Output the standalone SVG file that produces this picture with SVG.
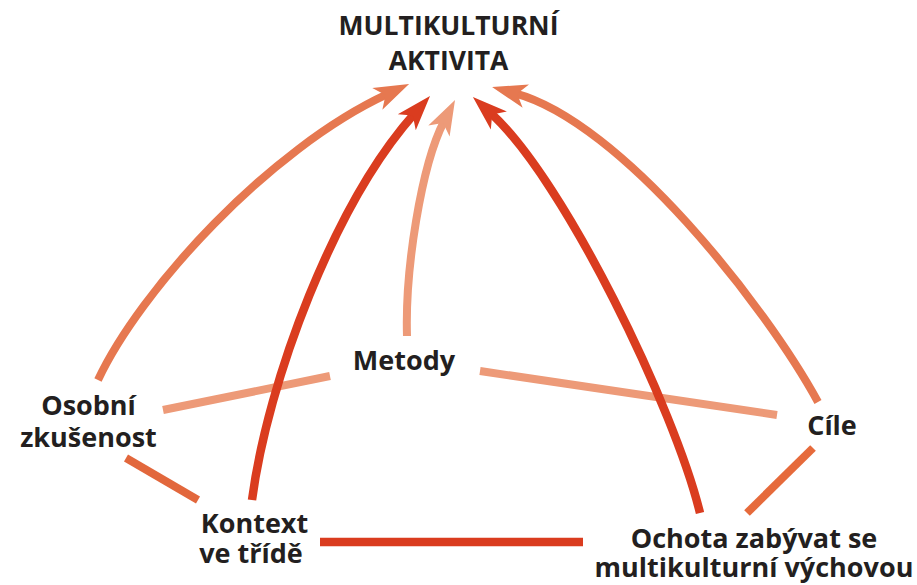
<svg xmlns="http://www.w3.org/2000/svg" width="917" height="585" viewBox="0 0 917 585">
<style>
.lbl{font-family:"Open Sans","Noto Sans","DejaVu Sans",sans-serif;font-weight:700;font-size:27px;fill:#231f20;text-anchor:middle}
.ttl{font-size:26.5px}
.c{fill:none;stroke-linecap:butt}
.mid{stroke:#e67850;stroke-width:8}
.red{stroke:#da3c1f;stroke-width:8.5}
.lt{stroke:#ed9a78;stroke-width:8}
</style>
<defs>
<marker id="hMid" markerUnits="userSpaceOnUse" viewBox="-12 -13 37 26" refX="0" refY="0" markerWidth="37" markerHeight="26" orient="auto"><path d="M24,0 L-11,-12 L-2,0 L-11,12 Z" fill="#e67850"/></marker>
<marker id="hRed" markerUnits="userSpaceOnUse" viewBox="-12 -13 37 26" refX="0" refY="0" markerWidth="37" markerHeight="26" orient="auto"><path d="M24,0 L-11,-12 L-2,0 L-11,12 Z" fill="#da3c1f"/></marker>
<marker id="hLt" markerUnits="userSpaceOnUse" viewBox="-12 -13 37 26" refX="0" refY="0" markerWidth="37" markerHeight="26" orient="auto"><path d="M24,0 L-11,-12 L-2,0 L-11,12 Z" fill="#ed9a78"/></marker>
</defs>
<g id="connectors">
<line class="c lt" x1="163" y1="410" x2="330" y2="376"/>
<line class="c lt" x1="480" y1="371" x2="777" y2="415"/>
<line class="c" stroke="#e2673c" stroke-width="8" x1="126" y1="458" x2="198" y2="500"/>
<line class="c" stroke="#e66a3b" stroke-width="8" x1="813" y1="448" x2="747" y2="513"/>
<line class="c red" x1="320" y1="542" x2="583" y2="542"/>
<path class="c mid" d="M98,380 C140,290 269,149 387.3,94.2" marker-end="url(#hMid)"/>
<path class="c red" d="M252,500 C268,380 334.4,203.9 414.1,114" marker-end="url(#hRed)"/>
<path class="c lt" d="M407,336 C405,270 421,165.8 444,121.3" marker-end="url(#hLt)"/>
<path class="c red" d="M700,513 C675,410 564.7,180 490.7,113.1" marker-end="url(#hRed)"/>
<path class="c mid" d="M818,402 C765,305 621.3,122.2 515.2,93.3" marker-end="url(#hMid)"/>
</g>
<g id="title"><text class="lbl ttl"><tspan x="448.5" y="35">MULTIKULTURNÍ</tspan><tspan x="448.5" y="70">AKTIVITA</tspan></text></g>
<g id="metody"><text class="lbl" x="404" y="370">Metody</text></g>
<g id="osobni"><text class="lbl"><tspan x="88.5" y="415">Osobní</tspan><tspan x="88.5" y="447">zkušenost</tspan></text></g>
<g id="kontext"><text class="lbl"><tspan x="254.5" y="533">Kontext</tspan><tspan x="251" y="563">ve třídě</tspan></text></g>
<g id="cile"><text class="lbl" x="832" y="435">Cíle</text></g>
<g id="ochota"><text class="lbl"><tspan x="754" y="548">Ochota zabývat se</tspan><tspan x="754" y="577">multikulturní výchovou</tspan></text></g>
</svg>
